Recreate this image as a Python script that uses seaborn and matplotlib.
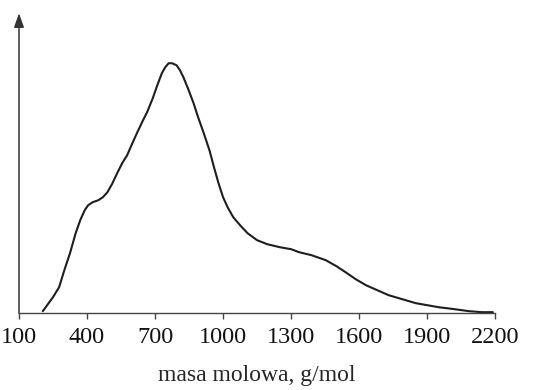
import pandas as pd
import matplotlib
matplotlib.use('Agg')
import matplotlib.pyplot as plt
import seaborn as sns

# --- Data ---
masa = [205, 250, 277, 300, 325, 350, 370, 390, 405, 425, 450, 470, 490, 510,
        533, 555, 577, 600, 620, 645, 665, 690, 710, 730, 745, 760, 775, 795,
        810, 825, 845, 870, 890, 915, 940, 960, 980, 1000, 1020, 1045, 1075,
        1108, 1150, 1195, 1250, 1300, 1335, 1390, 1453, 1500, 1540, 1585, 1630,
        1680, 1730, 1790, 1850, 1900, 1950, 2020, 2085, 2140, 2190]
intensywnosc = [2, 16, 26, 43, 60, 80, 93, 103, 108, 111, 113, 116, 121, 129,
                140, 150, 158, 170, 180, 192, 201, 215, 228, 240, 246, 250, 250,
                248, 243, 236, 225, 210, 196, 180, 163, 146, 130, 116, 106, 96, 88,
                80, 73, 69, 66, 64, 61, 58, 53, 47, 41, 34, 28, 23, 18, 14, 10, 8,
                6, 4, 2, 1, 1]
ticks = [100, 400, 700, 1000, 1300, 1600, 1900, 2200]

df = pd.DataFrame({'masa': masa, 'y': intensywnosc})

sns.set_theme(style='white')
plt.rcParams['font.family'] = ['Liberation Serif', 'DejaVu Serif']

fig = plt.figure(figsize=(5.35, 3.9), dpi=100)
ax = fig.add_axes([0.0355, 0.197, 0.89, 0.769])

sns.lineplot(data=df, x='masa', y='y', ax=ax, color='#1e1e1e', linewidth=1.5)

ax.set_xlim(100, 2200)
ax.set_ylim(0, 300)
ax.set_xticks(ticks)
ax.set_xticklabels([str(t) for t in ticks], fontsize=17.5)
ax.set_yticks([])
ax.set_ylabel('')
ax.set_xlabel('masa molowa, g/mol', fontsize=17, labelpad=12)

for s in ['top', 'right', 'left']:
    ax.spines[s].set_visible(False)
ax.spines['bottom'].set_color('#444444')
ax.spines['bottom'].set_linewidth(1.0)
ax.tick_params(axis='x', bottom=True, direction='out', length=4, width=1,
               color='#444444', pad=6, labelcolor='#111111')

# y axis drawn as an arrow
ax.annotate('', xy=(0, 1.0), xytext=(0, 0), xycoords='axes fraction',
            arrowprops=dict(arrowstyle='-|>,head_length=0.7,head_width=0.25',
                            color='#333333', lw=1.1, shrinkA=0, shrinkB=0))

fig.savefig('out.png', dpi=100, facecolor='white')
